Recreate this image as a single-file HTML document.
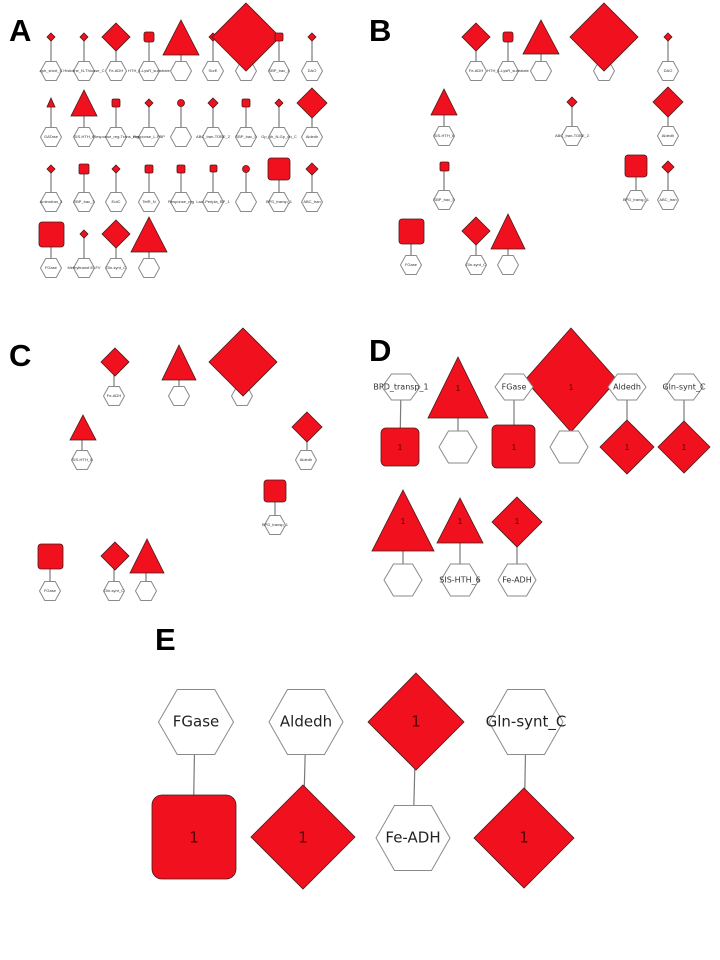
<!DOCTYPE html>
<html><head><meta charset="utf-8"><style>
html,body{margin:0;padding:0;background:#fff;}
svg{display:block;}
.h{fill:#fff;stroke:#8a8a8a;stroke-width:1;vector-effect:non-scaling-stroke;}
.r{fill:#f0101e;stroke:#4a1a1a;stroke-width:0.8;}
.l{stroke:#7a7a7a;stroke-width:1.2;}
.t{font-family:"Liberation Sans",sans-serif;font-size:4px;fill:#333;text-anchor:middle;dominant-baseline:middle;}
.td{font-family:"DejaVu Sans","Liberation Sans",sans-serif;font-size:8px;fill:#333;text-anchor:middle;dominant-baseline:middle;}
.te{font-family:"DejaVu Sans","Liberation Sans",sans-serif;font-size:15px;fill:#222;text-anchor:middle;dominant-baseline:middle;}
.n{font-family:"Liberation Sans",sans-serif;font-size:8px;fill:#5a0000;text-anchor:middle;dominant-baseline:middle;}
.L{font-family:"Liberation Sans",sans-serif;font-weight:bold;font-size:31px;fill:#000;}
</style></head><body>
<svg width="720" height="960" viewBox="0 0 720 960" xmlns="http://www.w3.org/2000/svg">
<text class="L" x="9" y="41">A</text>
<text class="L" x="369" y="41">B</text>
<text class="L" x="9" y="366">C</text>
<text class="L" x="369" y="361">D</text>
<text class="L" x="155" y="650">E</text>

<!-- ===== Panel A ===== -->
<g>
<g class="l">
<line x1="51" y1="37" x2="51" y2="71"/><line x1="84" y1="37" x2="84" y2="71"/><line x1="116" y1="37" x2="116" y2="71"/><line x1="149" y1="37" x2="149" y2="71"/><line x1="181" y1="37" x2="181" y2="71"/><line x1="213" y1="37" x2="213" y2="71"/><line x1="246" y1="37" x2="246" y2="71"/><line x1="279" y1="37" x2="279" y2="71"/><line x1="312" y1="37" x2="312" y2="71"/>
<line x1="51" y1="103" x2="51" y2="137"/><line x1="84" y1="103" x2="84" y2="137"/><line x1="116" y1="103" x2="116" y2="137"/><line x1="149" y1="103" x2="149" y2="137"/><line x1="181" y1="103" x2="181" y2="137"/><line x1="213" y1="103" x2="213" y2="137"/><line x1="246" y1="103" x2="246" y2="137"/><line x1="279" y1="103" x2="279" y2="137"/><line x1="312" y1="103" x2="312" y2="137"/>
<line x1="51" y1="169" x2="51" y2="202"/><line x1="84" y1="169" x2="84" y2="202"/><line x1="116" y1="169" x2="116" y2="202"/><line x1="149" y1="169" x2="149" y2="202"/><line x1="181" y1="169" x2="181" y2="202"/><line x1="213" y1="169" x2="213" y2="202"/><line x1="246" y1="169" x2="246" y2="202"/><line x1="279" y1="169" x2="279" y2="202"/><line x1="312" y1="169" x2="312" y2="202"/>
<line x1="51" y1="234" x2="51" y2="268"/><line x1="84" y1="234" x2="84" y2="268"/><line x1="116" y1="234" x2="116" y2="268"/><line x1="149" y1="234" x2="149" y2="268"/>
</g>
<g>
<polygon class="h" points="-1,0 -0.5,-1 0.5,-1 1,0 0.5,1 -0.5,1" transform="translate(51,71) scale(10.5,9.5)"/><polygon class="h" points="-1,0 -0.5,-1 0.5,-1 1,0 0.5,1 -0.5,1" transform="translate(84,71) scale(10.5,9.5)"/><polygon class="h" points="-1,0 -0.5,-1 0.5,-1 1,0 0.5,1 -0.5,1" transform="translate(116,71) scale(10.5,9.5)"/><polygon class="h" points="-1,0 -0.5,-1 0.5,-1 1,0 0.5,1 -0.5,1" transform="translate(149,71) scale(10.5,9.5)"/><polygon class="h" points="-1,0 -0.5,-1 0.5,-1 1,0 0.5,1 -0.5,1" transform="translate(181,71) scale(10.5,9.5)"/><polygon class="h" points="-1,0 -0.5,-1 0.5,-1 1,0 0.5,1 -0.5,1" transform="translate(213,71) scale(10.5,9.5)"/><polygon class="h" points="-1,0 -0.5,-1 0.5,-1 1,0 0.5,1 -0.5,1" transform="translate(246,71) scale(10.5,9.5)"/><polygon class="h" points="-1,0 -0.5,-1 0.5,-1 1,0 0.5,1 -0.5,1" transform="translate(279,71) scale(10.5,9.5)"/><polygon class="h" points="-1,0 -0.5,-1 0.5,-1 1,0 0.5,1 -0.5,1" transform="translate(312,71) scale(10.5,9.5)"/>
<polygon class="h" points="-1,0 -0.5,-1 0.5,-1 1,0 0.5,1 -0.5,1" transform="translate(51,137) scale(10.5,9.5)"/><polygon class="h" points="-1,0 -0.5,-1 0.5,-1 1,0 0.5,1 -0.5,1" transform="translate(84,137) scale(10.5,9.5)"/><polygon class="h" points="-1,0 -0.5,-1 0.5,-1 1,0 0.5,1 -0.5,1" transform="translate(116,137) scale(10.5,9.5)"/><polygon class="h" points="-1,0 -0.5,-1 0.5,-1 1,0 0.5,1 -0.5,1" transform="translate(149,137) scale(10.5,9.5)"/><polygon class="h" points="-1,0 -0.5,-1 0.5,-1 1,0 0.5,1 -0.5,1" transform="translate(181,137) scale(10.5,9.5)"/><polygon class="h" points="-1,0 -0.5,-1 0.5,-1 1,0 0.5,1 -0.5,1" transform="translate(213,137) scale(10.5,9.5)"/><polygon class="h" points="-1,0 -0.5,-1 0.5,-1 1,0 0.5,1 -0.5,1" transform="translate(246,137) scale(10.5,9.5)"/><polygon class="h" points="-1,0 -0.5,-1 0.5,-1 1,0 0.5,1 -0.5,1" transform="translate(279,137) scale(10.5,9.5)"/><polygon class="h" points="-1,0 -0.5,-1 0.5,-1 1,0 0.5,1 -0.5,1" transform="translate(312,137) scale(10.5,9.5)"/>
<polygon class="h" points="-1,0 -0.5,-1 0.5,-1 1,0 0.5,1 -0.5,1" transform="translate(51,202) scale(10.5,9.5)"/><polygon class="h" points="-1,0 -0.5,-1 0.5,-1 1,0 0.5,1 -0.5,1" transform="translate(84,202) scale(10.5,9.5)"/><polygon class="h" points="-1,0 -0.5,-1 0.5,-1 1,0 0.5,1 -0.5,1" transform="translate(116,202) scale(10.5,9.5)"/><polygon class="h" points="-1,0 -0.5,-1 0.5,-1 1,0 0.5,1 -0.5,1" transform="translate(149,202) scale(10.5,9.5)"/><polygon class="h" points="-1,0 -0.5,-1 0.5,-1 1,0 0.5,1 -0.5,1" transform="translate(181,202) scale(10.5,9.5)"/><polygon class="h" points="-1,0 -0.5,-1 0.5,-1 1,0 0.5,1 -0.5,1" transform="translate(213,202) scale(10.5,9.5)"/><polygon class="h" points="-1,0 -0.5,-1 0.5,-1 1,0 0.5,1 -0.5,1" transform="translate(246,202) scale(10.5,9.5)"/><polygon class="h" points="-1,0 -0.5,-1 0.5,-1 1,0 0.5,1 -0.5,1" transform="translate(279,202) scale(10.5,9.5)"/><polygon class="h" points="-1,0 -0.5,-1 0.5,-1 1,0 0.5,1 -0.5,1" transform="translate(312,202) scale(10.5,9.5)"/>
<polygon class="h" points="-1,0 -0.5,-1 0.5,-1 1,0 0.5,1 -0.5,1" transform="translate(51,268) scale(10.5,9.5)"/><polygon class="h" points="-1,0 -0.5,-1 0.5,-1 1,0 0.5,1 -0.5,1" transform="translate(84,268) scale(10.5,9.5)"/><polygon class="h" points="-1,0 -0.5,-1 0.5,-1 1,0 0.5,1 -0.5,1" transform="translate(116,268) scale(10.5,9.5)"/><polygon class="h" points="-1,0 -0.5,-1 0.5,-1 1,0 0.5,1 -0.5,1" transform="translate(149,268) scale(10.5,9.5)"/>
</g>
<g class="t">
<text x="51" y="71">aph_short_C</text><text x="84" y="71">Histidine_N-Thioase_C</text><text x="116" y="71">Fe-ADH</text><text x="149" y="71">HTH_1-LysR_substrate</text><text x="213" y="71">SurE</text><text x="279" y="71">SBP_bac_1</text><text x="312" y="71">DAO</text>
<text x="51" y="137">GATase</text><text x="84" y="137">SIS-HTH_6</text><text x="116" y="137">Response_reg-Trans_reg</text><text x="149" y="137">Response_L-PBP</text><text x="213" y="137">ABC_tran-TOBE_2</text><text x="246" y="137">SBP_bac_5</text><text x="279" y="137">Gp_dh_N-Gp_dh_C</text><text x="312" y="137">Aldedh</text>
<text x="51" y="202">Aminotran_3</text><text x="84" y="202">SBP_bac_3</text><text x="116" y="202">EutC</text><text x="149" y="202">TetR_N</text><text x="181" y="202">Response_reg</text><text x="213" y="202">LacI-Peripla_BP_1</text><text x="279" y="202">BPD_transp_1</text><text x="312" y="202">ABC_tran</text>
<text x="51" y="268">FGase</text><text x="84" y="268">Methyltransf-ELFV</text><text x="116" y="268">Gln-synt_C</text>
</g>
<g class="r">
<polygon points="51,33 55,37 51,41 47,37"/><polygon points="84,33 88,37 84,41 80,37"/><polygon points="116,23 130,37 116,51 102,37"/><rect x="144" y="32" width="10" height="10" rx="2"/><polygon points="181,20 199,55 163,55"/><polygon points="213,33 217,37 213,41 209,37"/><polygon points="246,3 280,37 246,71 212,37"/><rect x="275" y="33" width="8" height="8" rx="1.5"/><polygon points="312,33 316,37 312,41 308,37"/>
<polygon points="51,98 55,107 47,107"/><polygon points="84,90 97,116 71,116"/><rect x="112" y="99" width="8" height="8" rx="1.5"/><polygon points="149,99 153,103 149,107 145,103"/><circle cx="181" cy="103" r="3.5"/><polygon points="213,98 218,103 213,108 208,103"/><rect x="242" y="99" width="8" height="8" rx="1.5"/><polygon points="279,99 283,103 279,107 275,103"/><polygon points="312,88 327,103 312,118 297,103"/>
<polygon points="51,165 55,169 51,173 47,169"/><rect x="79" y="164" width="10" height="10" rx="1.5"/><polygon points="116,165 120,169 116,173 112,169"/><rect x="145" y="165" width="8" height="8" rx="1.5"/><rect x="177" y="165" width="8" height="8" rx="1.5"/><rect x="210" y="165" width="7" height="7" rx="1.5"/><circle cx="246" cy="169" r="3.5"/><rect x="268" y="158" width="22" height="22" rx="3"/><polygon points="312,163 318,169 312,175 306,169"/>
<rect x="39" y="222" width="25" height="25" rx="3"/><polygon points="84,230 88,234 84,238 80,234"/><polygon points="116,220 130,234 116,248 102,234"/><polygon points="149,217 167,252 131,252"/>
</g>
</g>

<!-- ===== Panel B ===== -->
<g>
<g class="l">
<line x1="476" y1="37" x2="476" y2="71"/><line x1="508" y1="37" x2="508" y2="71"/><line x1="541" y1="37" x2="541" y2="71"/><line x1="604" y1="37" x2="604" y2="71"/><line x1="668" y1="37" x2="668" y2="71"/>
<line x1="444" y1="103" x2="444" y2="136"/><line x1="572" y1="103" x2="572" y2="136"/><line x1="668" y1="103" x2="668" y2="136"/>
<line x1="444" y1="167" x2="444" y2="200"/><line x1="636" y1="167" x2="636" y2="200"/><line x1="668" y1="167" x2="668" y2="200"/>
<line x1="411" y1="232" x2="411" y2="265"/><line x1="476" y1="232" x2="476" y2="265"/><line x1="508" y1="232" x2="508" y2="265"/>
</g>
<g>
<polygon class="h" points="-1,0 -0.5,-1 0.5,-1 1,0 0.5,1 -0.5,1" transform="translate(476,71) scale(10.5,9.5)"/><polygon class="h" points="-1,0 -0.5,-1 0.5,-1 1,0 0.5,1 -0.5,1" transform="translate(508,71) scale(10.5,9.5)"/><polygon class="h" points="-1,0 -0.5,-1 0.5,-1 1,0 0.5,1 -0.5,1" transform="translate(541,71) scale(10.5,9.5)"/><polygon class="h" points="-1,0 -0.5,-1 0.5,-1 1,0 0.5,1 -0.5,1" transform="translate(604,71) scale(10.5,9.5)"/><polygon class="h" points="-1,0 -0.5,-1 0.5,-1 1,0 0.5,1 -0.5,1" transform="translate(668,71) scale(10.5,9.5)"/>
<polygon class="h" points="-1,0 -0.5,-1 0.5,-1 1,0 0.5,1 -0.5,1" transform="translate(444,136) scale(10.5,9.5)"/><polygon class="h" points="-1,0 -0.5,-1 0.5,-1 1,0 0.5,1 -0.5,1" transform="translate(572,136) scale(10.5,9.5)"/><polygon class="h" points="-1,0 -0.5,-1 0.5,-1 1,0 0.5,1 -0.5,1" transform="translate(668,136) scale(10.5,9.5)"/>
<polygon class="h" points="-1,0 -0.5,-1 0.5,-1 1,0 0.5,1 -0.5,1" transform="translate(444,200) scale(10.5,9.5)"/><polygon class="h" points="-1,0 -0.5,-1 0.5,-1 1,0 0.5,1 -0.5,1" transform="translate(636,200) scale(10.5,9.5)"/><polygon class="h" points="-1,0 -0.5,-1 0.5,-1 1,0 0.5,1 -0.5,1" transform="translate(668,200) scale(10.5,9.5)"/>
<polygon class="h" points="-1,0 -0.5,-1 0.5,-1 1,0 0.5,1 -0.5,1" transform="translate(411,265) scale(10.5,9.5)"/><polygon class="h" points="-1,0 -0.5,-1 0.5,-1 1,0 0.5,1 -0.5,1" transform="translate(476,265) scale(10.5,9.5)"/><polygon class="h" points="-1,0 -0.5,-1 0.5,-1 1,0 0.5,1 -0.5,1" transform="translate(508,265) scale(10.5,9.5)"/>
</g>
<g class="t">
<text x="476" y="71">Fe-ADH</text><text x="508" y="71">HTH_1-LysR_substrate</text><text x="668" y="71">DAO</text>
<text x="444" y="136">SIS-HTH_6</text><text x="572" y="136">ABC_tran-TOBE_2</text><text x="668" y="136">Aldedh</text>
<text x="444" y="200">SBP_bac_5</text><text x="636" y="200">BPD_transp_1</text><text x="668" y="200">ABC_tran</text>
<text x="411" y="265">FGase</text><text x="476" y="265">Gln-synt_C</text>
</g>
<g class="r">
<polygon points="476,23 490,37 476,51 462,37"/><rect x="503" y="32" width="10" height="10" rx="2"/><polygon points="541,20 559,54 523,54"/><polygon points="604,3 638,37 604,71 570,37"/><polygon points="668,33 672,37 668,41 664,37"/>
<polygon points="444,89 457,115 431,115"/><polygon points="572,97 577,102 572,107 567,102"/><polygon points="668,87 683,102 668,117 653,102"/>
<rect x="440" y="162" width="9" height="9" rx="1.5"/><rect x="625" y="155" width="22" height="22" rx="3"/><polygon points="668,161 674,167 668,173 662,167"/>
<rect x="399" y="219" width="25" height="25" rx="3"/><polygon points="476,217 490,231 476,245 462,231"/><polygon points="508,214 525,249 491,249"/>
</g>
</g>

<!-- ===== Panel C ===== -->
<g>
<g class="l">
<line x1="114" y1="362" x2="114" y2="396"/><line x1="179" y1="362" x2="179" y2="396"/><line x1="243" y1="362" x2="243" y2="396"/>
<line x1="82" y1="428" x2="82" y2="460"/><line x1="307" y1="427" x2="307" y2="460"/>
<line x1="275" y1="491" x2="275" y2="525"/>
<line x1="50" y1="556" x2="50" y2="591"/><line x1="114" y1="556" x2="114" y2="591"/><line x1="146" y1="556" x2="146" y2="591"/>
</g>
<g>
<polygon class="h" points="-1,0 -0.5,-1 0.5,-1 1,0 0.5,1 -0.5,1" transform="translate(114,396) scale(10.5,9.5)"/><polygon class="h" points="-1,0 -0.5,-1 0.5,-1 1,0 0.5,1 -0.5,1" transform="translate(179,396) scale(10.5,9.5)"/><polygon class="h" points="-1,0 -0.5,-1 0.5,-1 1,0 0.5,1 -0.5,1" transform="translate(242,396) scale(10.5,9.5)"/>
<polygon class="h" points="-1,0 -0.5,-1 0.5,-1 1,0 0.5,1 -0.5,1" transform="translate(82,460) scale(10.5,9.5)"/><polygon class="h" points="-1,0 -0.5,-1 0.5,-1 1,0 0.5,1 -0.5,1" transform="translate(306,460) scale(10.5,9.5)"/>
<polygon class="h" points="-1,0 -0.5,-1 0.5,-1 1,0 0.5,1 -0.5,1" transform="translate(275,525) scale(10.5,9.5)"/>
<polygon class="h" points="-1,0 -0.5,-1 0.5,-1 1,0 0.5,1 -0.5,1" transform="translate(50,591) scale(10.5,9.5)"/><polygon class="h" points="-1,0 -0.5,-1 0.5,-1 1,0 0.5,1 -0.5,1" transform="translate(114,591) scale(10.5,9.5)"/><polygon class="h" points="-1,0 -0.5,-1 0.5,-1 1,0 0.5,1 -0.5,1" transform="translate(146,591) scale(10.5,9.5)"/>
</g>
<g class="t">
<text x="114" y="396">Fe-ADH</text><text x="82" y="460">SIS-HTH_6</text><text x="306" y="460">Aldedh</text><text x="275" y="525">BPD_transp_1</text><text x="50" y="591">FGase</text><text x="114" y="591">Gln-synt_C</text>
</g>
<g class="r">
<polygon points="115,348 129,362 115,376 101,362"/><polygon points="179,345 196,380 162,380"/><polygon points="243,328 277,362 243,396 209,362"/>
<polygon points="83,415 96,440 70,440"/><polygon points="307,412 322,427 307,442 292,427"/>
<rect x="264" y="480" width="22" height="22" rx="3"/>
<rect x="38" y="544" width="25" height="25" rx="3"/><polygon points="115,542 129,556 115,570 101,556"/><polygon points="147,539 164,573 130,573"/>
</g>
</g>

<!-- ===== Panel D ===== -->
<g>
<g class="l">
<line x1="401" y1="387" x2="400" y2="447"/><line x1="458" y1="387" x2="458" y2="447"/><line x1="514" y1="387" x2="514" y2="447"/><line x1="571" y1="387" x2="569" y2="447"/><line x1="627" y1="387" x2="627" y2="447"/><line x1="684" y1="387" x2="684" y2="447"/>
<line x1="403" y1="520" x2="403" y2="580"/><line x1="460" y1="520" x2="460" y2="580"/><line x1="517" y1="522" x2="517" y2="580"/>
</g>
<g class="r">
<polygon points="571,328 617,380 571,432 525,380"/>
</g>
<g>
<polygon class="h" points="-1,0 -0.5,-1 0.5,-1 1,0 0.5,1 -0.5,1" transform="translate(401,387) scale(19,13)"/><polygon class="h" points="-1,0 -0.5,-1 0.5,-1 1,0 0.5,1 -0.5,1" transform="translate(514,387) scale(19,13)"/><polygon class="h" points="-1,0 -0.5,-1 0.5,-1 1,0 0.5,1 -0.5,1" transform="translate(627,387) scale(19,13)"/><polygon class="h" points="-1,0 -0.5,-1 0.5,-1 1,0 0.5,1 -0.5,1" transform="translate(684,387) scale(19,13)"/>
<polygon class="h" points="-1,0 -0.5,-1 0.5,-1 1,0 0.5,1 -0.5,1" transform="translate(458,447) scale(19,16)"/><polygon class="h" points="-1,0 -0.5,-1 0.5,-1 1,0 0.5,1 -0.5,1" transform="translate(569,447) scale(19,16)"/>
<polygon class="h" points="-1,0 -0.5,-1 0.5,-1 1,0 0.5,1 -0.5,1" transform="translate(403,580) scale(19,16)"/><polygon class="h" points="-1,0 -0.5,-1 0.5,-1 1,0 0.5,1 -0.5,1" transform="translate(460,580) scale(19,16)"/><polygon class="h" points="-1,0 -0.5,-1 0.5,-1 1,0 0.5,1 -0.5,1" transform="translate(517,580) scale(19,16)"/>
</g>
<g class="td">
<text x="401" y="387">BPD_transp_1</text><text x="514" y="387">FGase</text><text x="627" y="387">Aldedh</text><text x="684" y="387">Gln-synt_C</text>
<text x="460" y="580">SIS-HTH_6</text><text x="517" y="580">Fe-ADH</text>
</g>
<g class="r">
<polygon points="458,357 488,418 428,418"/>
<rect x="381" y="428" width="38" height="38" rx="5"/><rect x="492" y="425" width="43" height="43" rx="5"/>
<polygon points="627,420 654,447 627,474 600,447"/><polygon points="684,421 710,447 684,473 658,447"/>
<polygon points="403,490 434,551 372,551"/><polygon points="460,498 483,543 437,543"/><polygon points="517,497 542,522 517,547 492,522"/>
</g>
<g class="n">
<text x="571" y="388">1</text><text x="458" y="389">1</text><text x="400" y="448">1</text><text x="514" y="448">1</text><text x="627" y="448">1</text><text x="684" y="448">1</text><text x="403" y="522">1</text><text x="460" y="522">1</text><text x="517" y="522">1</text>
</g>
</g>

<!-- ===== Panel E ===== -->
<g>
<g class="l">
<line x1="195" y1="722" x2="193" y2="837"/><line x1="306" y1="722" x2="303" y2="837"/><line x1="416" y1="722" x2="413" y2="838"/><line x1="526" y1="722" x2="524" y2="838"/>
</g>
<g>
<polygon class="h" points="-1,0 -0.5,-1 0.5,-1 1,0 0.5,1 -0.5,1" transform="translate(196,722) scale(37.5,32.5)"/><polygon class="h" points="-1,0 -0.5,-1 0.5,-1 1,0 0.5,1 -0.5,1" transform="translate(306,722) scale(37,32.5)"/><polygon class="h" points="-1,0 -0.5,-1 0.5,-1 1,0 0.5,1 -0.5,1" transform="translate(526,722) scale(37,32.5)"/>
<polygon class="h" points="-1,0 -0.5,-1 0.5,-1 1,0 0.5,1 -0.5,1" transform="translate(413,838) scale(37,32.5)"/>
</g>
<g class="r">
<rect x="152" y="795" width="84" height="84" rx="10"/>
<polygon points="303,785 355,837 303,889 251,837"/>
<polygon points="416,673 464,722 416,770 368,722"/>
<polygon points="524,788 574,838 524,888 474,838"/>
</g>
<g class="te">
<text x="196" y="722">FGase</text><text x="306" y="722">Aldedh</text><text x="526" y="722">Gln-synt_C</text><text x="413" y="838">Fe-ADH</text>
</g>
<g class="te" style="fill:#5a0000">
<text x="194" y="838">1</text><text x="303" y="838">1</text><text x="416" y="722">1</text><text x="524" y="838">1</text>
</g>
</g>
</svg>
</body></html>
